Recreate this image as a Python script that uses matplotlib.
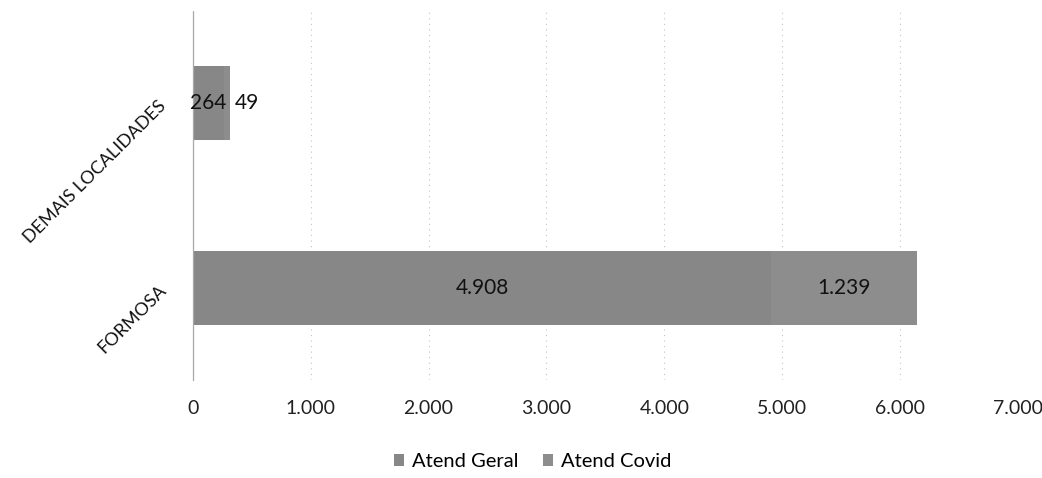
import matplotlib
matplotlib.use("Agg")
import matplotlib.pyplot as plt
from matplotlib.ticker import FuncFormatter

# Dados
localidades = ["FORMOSA", "DEMAIS LOCALIDADES"]
atend_geral = [4908, 264]
atend_covid = [1239, 49]
x_ticks = [0, 1000, 2000, 3000, 4000, 5000, 6000, 7000]

cor_geral = "#878787"
cor_covid = "#8d8d8d"


def fmt_milhar(v, pos=None):
    # separador de milhar no padrão brasileiro
    return f"{int(v):,}".replace(",", ".")


plt.rcParams['font.family'] = ['Lato', 'DejaVu Sans']

fig = plt.figure(figsize=(10.42, 4.78), dpi=100)
ax = fig.add_axes([0.185, 0.204, 0.792, 0.774])

y = list(range(len(localidades)))
b1 = ax.barh(y, atend_geral, height=0.4, color=cor_geral, label="Atend Geral")
b2 = ax.barh(y, atend_covid, height=0.4, left=atend_geral, color=cor_covid,
             label="Atend Covid")

ax.set_xlim(0, 7000)
ax.set_ylim(-0.5, 1.5)
ax.set_xticks(x_ticks)
ax.xaxis.set_major_formatter(FuncFormatter(fmt_milhar))
ax.set_yticks(y)
ax.set_yticklabels(localidades, rotation=45, ha="right", va="center",
                   rotation_mode="anchor", fontsize=13, color="#111111")
ax.tick_params(axis="x", length=0, pad=14, labelsize=14, labelcolor="#222222")
ax.tick_params(axis="y", length=0, pad=21)

ax.grid(axis="x", color="#c4c4c4", linestyle=(0, (1, 4)), linewidth=0.8)
ax.set_axisbelow(True)
for s in ["top", "right", "bottom"]:
    ax.spines[s].set_visible(False)
ax.spines["left"].set_color("#a8a8a8")
ax.spines["left"].set_linestyle((0, (1, 1)))
ax.spines["left"].set_linewidth(0.9)

# rótulos de dados
for i in y:
    g = atend_geral[i]
    c = atend_covid[i]
    ax.text(g / 2, i, fmt_milhar(g), ha="center", va="center",
            fontsize=15, color="#111111")
    if c > 300:
        ax.text(g + c / 2, i, fmt_milhar(c), ha="center", va="center",
                fontsize=15, color="#111111")
    else:
        ax.annotate(fmt_milhar(c), (g + c, i), xytext=(3.6, 0),
                    textcoords="offset points", ha="left", va="center",
                    fontsize=15, color="#111111")

leg = fig.legend(handles=[b1, b2], loc="center", ncol=2,
                 bbox_to_anchor=(0.511, 0.034), frameon=False, fontsize=14.5,
                 handlelength=0.5, handleheight=0.5, handletextpad=0.4,
                 columnspacing=1.2, borderpad=0)

fig.savefig("out.png", dpi=100)
